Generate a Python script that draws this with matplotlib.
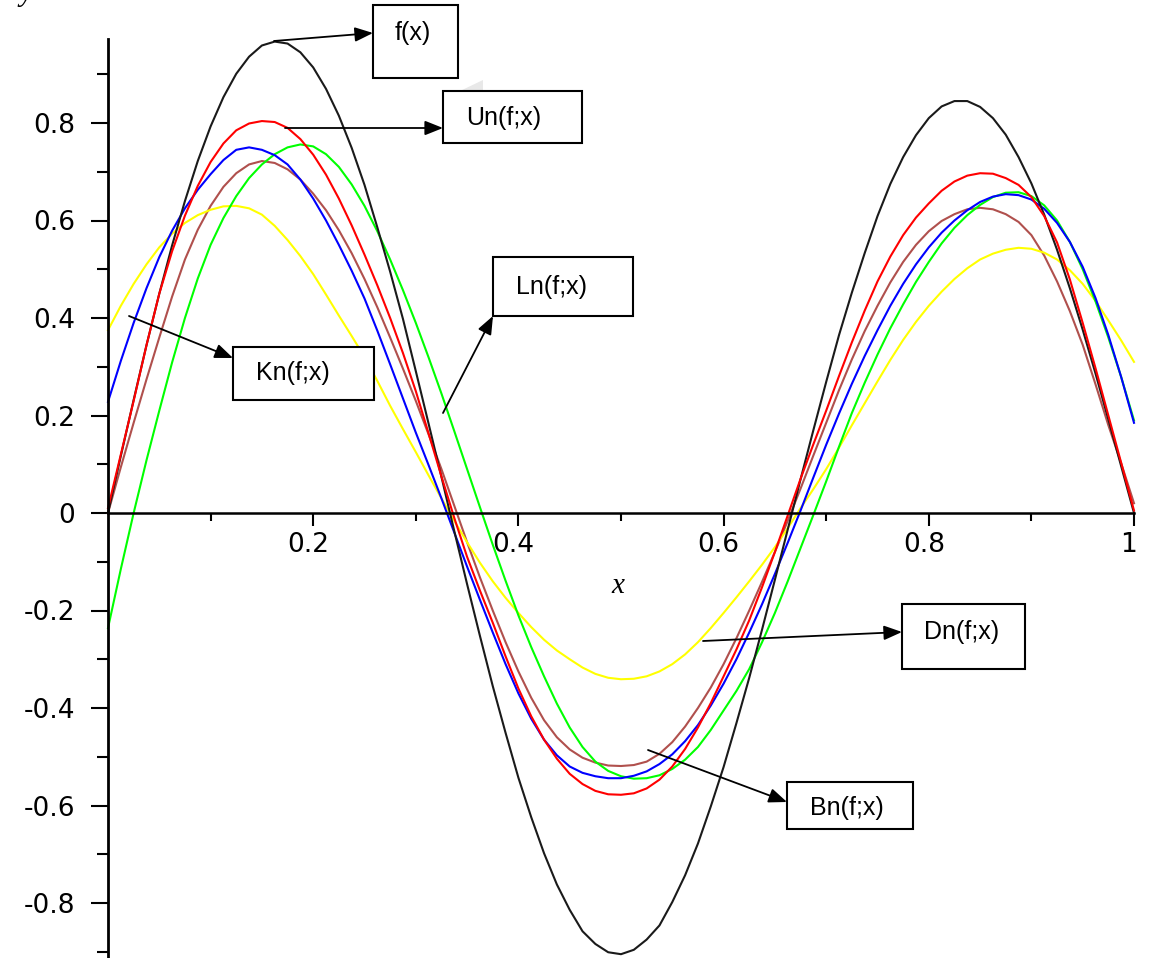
import matplotlib
matplotlib.use("Agg")
import matplotlib.pyplot as plt
from matplotlib.patches import Rectangle, Polygon
from matplotlib.ticker import FixedLocator
from matplotlib.transforms import ScaledTranslation

# sample points along x (step 0.0125)
x_pts = [0.0000, 0.0125, 0.0250, 0.0375, 0.0500, 0.0625, 0.0750, 0.0875, 0.1000, 0.1125,
         0.1250, 0.1375, 0.1500, 0.1625, 0.1750, 0.1875, 0.2000, 0.2125, 0.2250, 0.2375,
         0.2500, 0.2625, 0.2750, 0.2875, 0.3000, 0.3125, 0.3250, 0.3375, 0.3500, 0.3625,
         0.3750, 0.3875, 0.4000, 0.4125, 0.4250, 0.4375, 0.4500, 0.4625, 0.4750, 0.4875,
         0.5000, 0.5125, 0.5250, 0.5375, 0.5500, 0.5625, 0.5750, 0.5875, 0.6000, 0.6125,
         0.6250, 0.6375, 0.6500, 0.6625, 0.6750, 0.6875, 0.7000, 0.7125, 0.7250, 0.7375,
         0.7500, 0.7625, 0.7750, 0.7875, 0.8000, 0.8125, 0.8250, 0.8375, 0.8500, 0.8625,
         0.8750, 0.8875, 0.9000, 0.9125, 0.9250, 0.9375, 0.9500, 0.9625, 0.9750, 0.9875,
         1.0000]

f_vals = [0.000, 0.117, 0.232, 0.344, 0.450, 0.549, 0.640, 0.722, 0.793, 0.853,
          0.901, 0.936, 0.959, 0.967, 0.963, 0.945, 0.914, 0.870, 0.815, 0.749,
          0.673, 0.586, 0.495, 0.398, 0.291, 0.183, 0.074, -0.037, -0.146, -0.252,
          -0.355, -0.451, -0.543, -0.624, -0.698, -0.762, -0.814, -0.858, -0.884, -0.901,
          -0.905, -0.896, -0.875, -0.846, -0.798, -0.743, -0.678, -0.602, -0.521, -0.431,
          -0.338, -0.239, -0.137, -0.034, 0.069, 0.170, 0.269, 0.365, 0.452, 0.533,
          0.609, 0.675, 0.730, 0.775, 0.810, 0.834, 0.845, 0.845, 0.833, 0.810,
          0.776, 0.730, 0.676, 0.612, 0.540, 0.461, 0.376, 0.286, 0.192, 0.096,
          0.000]

un_vals = [0.010, 0.120, 0.230, 0.344, 0.450, 0.537, 0.610, 0.671, 0.720, 0.758,
           0.785, 0.799, 0.804, 0.802, 0.790, 0.767, 0.735, 0.694, 0.645, 0.590,
           0.530, 0.467, 0.400, 0.328, 0.250, 0.163, 0.075, -0.010, -0.090, -0.159,
           -0.225, -0.294, -0.360, -0.417, -0.465, -0.504, -0.535, -0.556, -0.570, -0.577,
           -0.578, -0.575, -0.565, -0.547, -0.520, -0.484, -0.440, -0.390, -0.335, -0.280,
           -0.220, -0.152, -0.080, -0.005, 0.070, 0.141, 0.210, 0.281, 0.350, 0.415,
           0.475, 0.526, 0.570, 0.606, 0.635, 0.661, 0.680, 0.692, 0.697, 0.696,
           0.687, 0.673, 0.648, 0.609, 0.555, 0.479, 0.390, 0.297, 0.200, 0.103,
           0.005]

kn_vals = [0.228, 0.312, 0.390, 0.461, 0.525, 0.579, 0.625, 0.663, 0.695, 0.724,
           0.745, 0.750, 0.745, 0.734, 0.715, 0.684, 0.645, 0.600, 0.550, 0.497,
           0.440, 0.374, 0.305, 0.235, 0.165, 0.098, 0.030, -0.040, -0.110, -0.178,
           -0.245, -0.310, -0.370, -0.422, -0.465, -0.497, -0.520, -0.533, -0.540, -0.544,
           -0.544, -0.539, -0.530, -0.515, -0.495, -0.468, -0.435, -0.395, -0.350, -0.300,
           -0.245, -0.187, -0.125, -0.061, 0.005, 0.073, 0.140, 0.204, 0.265, 0.322,
           0.375, 0.425, 0.470, 0.510, 0.545, 0.575, 0.600, 0.621, 0.638, 0.649,
           0.654, 0.652, 0.643, 0.624, 0.595, 0.556, 0.505, 0.441, 0.365, 0.279,
           0.185]

ln_vals = [-0.236, -0.115, 0.000, 0.108, 0.210, 0.309, 0.400, 0.481, 0.550, 0.605,
           0.650, 0.687, 0.715, 0.736, 0.750, 0.756, 0.752, 0.736, 0.710, 0.674,
           0.630, 0.578, 0.520, 0.457, 0.390, 0.319, 0.245, 0.168, 0.090, 0.012,
           -0.065, -0.139, -0.210, -0.275, -0.335, -0.391, -0.440, -0.480, -0.510, -0.529,
           -0.540, -0.545, -0.544, -0.538, -0.525, -0.506, -0.480, -0.445, -0.405, -0.365,
           -0.320, -0.265, -0.205, -0.140, -0.072, -0.004, 0.065, 0.136, 0.205, 0.267,
           0.325, 0.379, 0.428, 0.474, 0.515, 0.553, 0.585, 0.611, 0.632, 0.648,
           0.657, 0.658, 0.650, 0.631, 0.600, 0.556, 0.500, 0.434, 0.360, 0.279,
           0.190]

bn_vals = [0.000, 0.094, 0.185, 0.274, 0.360, 0.444, 0.520, 0.581, 0.630, 0.669,
           0.697, 0.715, 0.722, 0.718, 0.705, 0.684, 0.655, 0.621, 0.580, 0.533,
           0.480, 0.422, 0.360, 0.296, 0.230, 0.161, 0.090, 0.015, -0.060, -0.132,
           -0.200, -0.265, -0.325, -0.379, -0.425, -0.460, -0.485, -0.502, -0.512, -0.518,
           -0.519, -0.517, -0.510, -0.494, -0.470, -0.438, -0.400, -0.358, -0.310, -0.257,
           -0.200, -0.141, -0.080, -0.016, 0.050, 0.118, 0.185, 0.252, 0.315, 0.373,
           0.425, 0.473, 0.515, 0.550, 0.578, 0.599, 0.613, 0.623, 0.626, 0.623,
           0.613, 0.597, 0.570, 0.528, 0.475, 0.414, 0.345, 0.264, 0.180, 0.102,
           0.020]

dn_vals = [0.375, 0.425, 0.470, 0.510, 0.545, 0.573, 0.595, 0.611, 0.622, 0.629,
           0.630, 0.625, 0.612, 0.589, 0.560, 0.527, 0.490, 0.448, 0.405, 0.363,
           0.320, 0.271, 0.220, 0.172, 0.125, 0.077, 0.030, -0.016, -0.060, -0.102,
           -0.140, -0.174, -0.205, -0.234, -0.260, -0.282, -0.300, -0.317, -0.330, -0.338,
           -0.341, -0.340, -0.335, -0.325, -0.310, -0.290, -0.265, -0.236, -0.205, -0.173,
           -0.140, -0.106, -0.070, -0.031, 0.010, 0.049, 0.090, 0.134, 0.180, 0.225,
           0.270, 0.314, 0.355, 0.392, 0.425, 0.454, 0.480, 0.502, 0.520, 0.532,
           0.540, 0.544, 0.542, 0.534, 0.520, 0.498, 0.470, 0.435, 0.395, 0.354,
           0.310]

x_ticks = [0.2, 0.4, 0.6, 0.8, 1.0]
x_tick_labels = ["0.2", "0.4", "0.6", "0.8", "1"]
y_ticks = [-0.8, -0.6, -0.4, -0.2, 0.0, 0.2, 0.4, 0.6, 0.8]
y_tick_labels = ["-0.8", "-0.6", "-0.4", "-0.2", "0", "0.2", "0.4", "0.6", "0.8"]

box_labels = ["f(x)", "Un(f;x)", "Ln(f;x)", "Kn(f;x)", "Dn(f;x)", "Bn(f;x)"]

W, H = 1160, 958


def fx(px):
    return px / W


def fy(py):
    return 1 - py / H


fig = plt.figure(figsize=(W / 100, H / 100), dpi=100)
ax = fig.add_axes([0, 0, 1, 1])
ax.set_xlim(-108 / 1026, (W - 108) / 1026)
ax.set_ylim((513 - H) / 487.5, 513 / 487.5)

series = [
    (bn_vals, "#b0504d"),
    (dn_vals, "#ffff00"),
    (ln_vals, "#00ff00"),
    (kn_vals, "#0000ff"),
    (f_vals, "#1a1a1a"),
    (un_vals, "#ff0000"),
]
for vals, col in series:
    ax.plot(x_pts, vals, color=col, lw=1.5, solid_joinstyle="round")

# axes through the origin
for side in ["top", "right"]:
    ax.spines[side].set_visible(False)
ax.spines["left"].set_position(("data", 0))
ax.spines["bottom"].set_position(("data", 0))
ax.spines["left"].set_bounds(-0.95, 0.972)
ax.spines["bottom"].set_bounds(0, 1.0)
ax.spines["left"].set_linewidth(2.0)
ax.spines["bottom"].set_linewidth(1.8)

ax.xaxis.set_major_locator(FixedLocator(x_ticks))
ax.set_xticklabels(x_tick_labels)
ax.xaxis.set_minor_locator(FixedLocator([0.1, 0.3, 0.5, 0.7, 0.9]))
ax.yaxis.set_major_locator(FixedLocator(y_ticks))
ax.set_yticklabels(y_tick_labels)
ax.yaxis.set_minor_locator(FixedLocator([-0.9, -0.7, -0.5, -0.3, -0.1, 0.1, 0.3, 0.5, 0.7, 0.9]))

ax.tick_params(axis="x", which="major", direction="out", length=9, width=1.5, pad=5, labelsize=19)
ax.tick_params(axis="x", which="minor", direction="out", length=6, width=1.5)
ax.tick_params(axis="y", which="major", direction="out", length=12.5, width=1.5, pad=11, labelsize=19)
ax.tick_params(axis="y", which="minor", direction="out", length=8, width=1.5)
for lab in ax.get_xticklabels():
    lab.set_transform(lab.get_transform() + ScaledTranslation(-0.05, 0, fig.dpi_scale_trans))

ax.text(0.497, -0.15, "x", fontsize=21, style="italic", family="Liberation Serif",
        ha="center", va="center")
fig.text(fx(26), fy(1), "y", fontsize=21, style="italic", family="Liberation Serif",
         ha="center", va="baseline")

# label boxes: (left, top, right, bottom) in pixels, text centre, arrow tail, arrow head
boxes = [
    ((373, 5, 458, 78), (413, 33), (274, 41), (373, 33)),
    ((443, 91, 582, 143), (504, 118), (285, 128), (443, 128)),
    ((493, 257, 633, 316), (552, 287), (443, 413), (493, 316)),
    ((233, 347, 374, 400), (293, 373), (129, 316), (233, 358)),
    ((902, 604, 1025, 669), (962, 632), (703, 641), (902, 632)),
    ((787, 782, 913, 829), (847, 808), (648, 750), (787, 802)),
]

for label, (rect, txt, tail, head) in zip(box_labels, boxes):
    x0, y0, x1, y1 = rect
    fig.add_artist(Rectangle((fx(x0), fy(y1)), fx(x1) - fx(x0), fy(y0) - fy(y1),
                             transform=fig.transFigure, facecolor="white",
                             edgecolor="black", lw=1.5, zorder=5))
    fig.text(fx(txt[0]), fy(txt[1]), label, fontsize=18, family="Liberation Sans",
             ha="center", va="center", zorder=6)
    ax.annotate("", xy=(fx(head[0]), fy(head[1])), xytext=(fx(tail[0]), fy(tail[1])),
                xycoords="figure fraction", textcoords="figure fraction",
                arrowprops=dict(arrowstyle="-|>,head_length=0.55,head_width=0.22",
                                mutation_scale=20, lw=1.3, color="black",
                                shrinkA=0, shrinkB=0))

# faint leftover arrow head above the Un box
fig.add_artist(Polygon([(fx(460), fy(91)), (fx(483), fy(80)), (fx(483), fy(102))],
                       closed=True, transform=fig.transFigure,
                       facecolor="#e8e8e8", edgecolor="none", zorder=4))

fig.savefig("out.png", dpi=100)
